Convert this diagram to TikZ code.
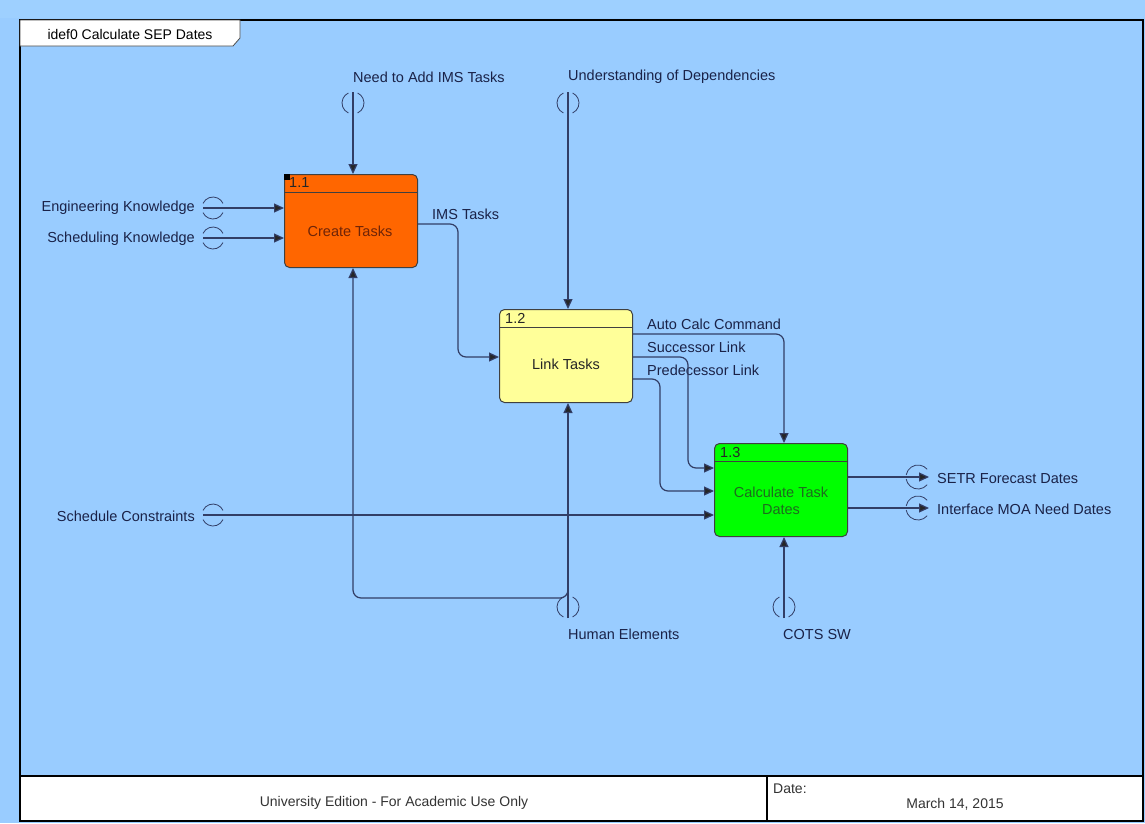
\documentclass[tikz,border=0pt]{standalone}
\usepackage{fontspec}
\setmainfont{Liberation Sans}
\usetikzlibrary{arrows.meta}
\definecolor{bg}{HTML}{99CCFF}
\definecolor{bgtop}{HTML}{9ED0FF}
\definecolor{ink}{HTML}{1A2248}
\definecolor{wire}{HTML}{323E66}
\definecolor{orangebox}{HTML}{FF6600}
\definecolor{yellowbox}{HTML}{FFFF99}
\definecolor{greenbox}{HTML}{00FF00}
\definecolor{redtext}{HTML}{6E2408}
\definecolor{greentext}{HTML}{1E6B1E}
\newcommand\vtunnel[2]{%
  \draw[tun] (#1,#2) ++(115:11) arc[start angle=115,end angle=245,radius=11];
  \draw[tun] (#1,#2) ++(65:11) arc[start angle=65,end angle=-65,radius=11];}
\newcommand\itunnel[2]{%
  \draw[tun] (#1,#2) ++(25:11) arc[start angle=25,end angle=155,radius=11];
  \draw[tun] (#1,#2) ++(205:11) arc[start angle=205,end angle=335,radius=11];}
\newcommand\otunnel[2]{%
  \draw[tun] (#1,#2) ++(40:12) arc[start angle=40,end angle=170,radius=12];
  \draw[tun] (#1,#2) ++(190:12) arc[start angle=190,end angle=320,radius=12];}
\begin{document}
\begin{tikzpicture}[x=1pt,y=-1pt,
  font=\fontsize{14.5}{17}\selectfont,
  lbl/.style={text=ink, inner sep=0pt},
  wirestyle/.style={draw=wire, line width=1.2pt},
  arr/.style={wirestyle, -{Triangle[length=10pt,width=9pt,fill=black!85]}, rounded corners=8pt},
  tun/.style={draw=wire, line width=0.8pt},
  act/.style={draw=black!75, line width=1pt, rounded corners=5pt,
    minimum width=133pt, minimum height=93pt, inner sep=0pt, anchor=north west},
  numlbl/.style={text=black!85, inner sep=0pt, anchor=west},
]
\useasboundingbox (0,0) rectangle (1145,823);
% background and frame
\fill[bg] (0,0) rectangle (1145,823);
\fill[bgtop] (0,0) rectangle (1145,18);
\fill[white] (20,776) rectangle (1143,821);
\draw[black, line width=2pt] (20,20) rectangle (1143,821);
\draw[black, line width=2.5pt] (20,20) -- (20,821);
\draw[black, line width=2pt] (20,776) -- (1143,776);
\draw[black, line width=2pt] (767,776) -- (767,821);
\filldraw[fill=white, draw=black!70, line width=0.8pt] (20,20) -- (240,20) -- (240,38) -- (233,46) -- (20,46) -- cycle;
\node[lbl, text=black, font=\fontsize{14}{17}\selectfont] (title) at (130,34) {idef0 Calculate SEP Dates};
\node[lbl, text=black!80, font=\fontsize{14}{17}\selectfont] (univ) at (394,803) {University Edition - For Academic Use Only};
\node[lbl, text=black!80, anchor=west, font=\fontsize{14}{17}\selectfont] (datel) at (773,789) {Date:};
\node[lbl, text=black!80, font=\fontsize{14}{17}\selectfont] (date) at (955,804) {March 14, 2015};

% activity boxes
\node[act, fill=orangebox] (b1) at (284,174) {};
\node[act, fill=yellowbox] (b2) at (499,309) {};
\node[act, fill=greenbox] (b3) at (714,443) {};
\foreach \b in {b1,b2,b3}
  \draw[black!75, line width=1pt] ([yshift=-18pt]\b.north west) -- ([yshift=-18pt]\b.north east);
\fill[black] (284,174) rectangle (290,180);
\node[numlbl] (n1) at (289,183) {1.1};
\node[numlbl] (n2) at (505,318) {1.2};
\node[numlbl] (n3) at (720,452) {1.3};
\node[inner sep=0pt, text=redtext] (t1) at (350,231) {Create Tasks};
\node[inner sep=0pt, text=black!85] (t2) at (566,364) {Link Tasks};
\node[inner sep=0pt, text=greentext, align=center, font=\fontsize{14.5}{17.5}\selectfont] (t3) at (781,501) {Calculate Task\\Dates};

% boundary coordinates
\coordinate (needA) at (353,92);
\coordinate (undA) at (568,92);
\coordinate (engA) at (203,208);
\coordinate (schA) at (203,238);
\coordinate (conA) at (203,515);
\coordinate (humA) at (568,618);
\coordinate (cotsA) at (784,618);
\coordinate (setrA) at (929,477);
\coordinate (moaA) at (929,508);

% tunnels
\vtunnel{353}{103}
\vtunnel{568}{103}
\vtunnel{568}{607}
\vtunnel{784}{607}
\itunnel{213}{208}
\itunnel{213}{238}
\itunnel{213}{515}
\otunnel{918}{477}
\otunnel{918}{508}

% boundary labels
\node[lbl, anchor=west] (needL) at (353,77) {Need to Add IMS Tasks};
\node[lbl, anchor=west] (undL) at (568,77) {Understanding of Dependencies};
\node[lbl, anchor=east] (engL) at (195,208) {Engineering Knowledge};
\node[lbl, anchor=east] (schL) at (195,239) {Scheduling Knowledge};
\node[lbl, anchor=east] (conL) at (195,516) {Schedule Constraints};
\node[lbl, anchor=west] (humL) at (568,634) {Human Elements};
\node[lbl, anchor=west] (cotsL) at (783,634) {COTS SW};
\node[lbl, anchor=west] (setrL) at (937,478) {SETR Forecast Dates};
\node[lbl, anchor=west] (moaL) at (937,509) {Interface MOA Need Dates};
% internal labels
\node[lbl, anchor=west] (imsL) at (432,214) {IMS Tasks};
\node[lbl, anchor=west] (autoL) at (647,324) {Auto Calc Command};
\node[lbl, anchor=west] (succL) at (647,347) {Successor Link};
\node[lbl, anchor=west] (predL) at (647,370) {Predecessor Link};

% connectors
\draw[arr] (needA) -- (b1.north west -| needA);
\draw[arr] (undA) -- (b2.north west -| undA);
\draw[arr] (engA) -- (b1.west |- engA);
\draw[arr] (schA) -- (b1.west |- schA);
\draw[arr] (conA) -- (b3.west |- conA);
\draw[arr] (humA) -- (b2.south west -| humA);
\draw[arr] (568,585) -- (568,598) -- (353,598) -- (b1.south west -| needA);
\draw[arr] (cotsA) -- (b3.south west -| cotsA);
\draw[arr] (b1.east |- 0,224) -- (458,224) -- (458,357) -- (b2.west |- 0,357);
\draw[arr] (b2.east |- 0,334) -- (784,334) -- (b3.north west -| cotsA);
\draw[arr] (b2.east |- 0,357) -- (688,357) -- (688,468) -- (b3.west |- 0,468);
\draw[arr] (b2.east |- 0,379) -- (660,379) -- (660,491) -- (b3.west |- 0,491);
\draw[arr] (b3.east |- setrA) -- (setrA);
\draw[arr] (b3.east |- moaA) -- (moaA);
\end{tikzpicture}
\end{document}
